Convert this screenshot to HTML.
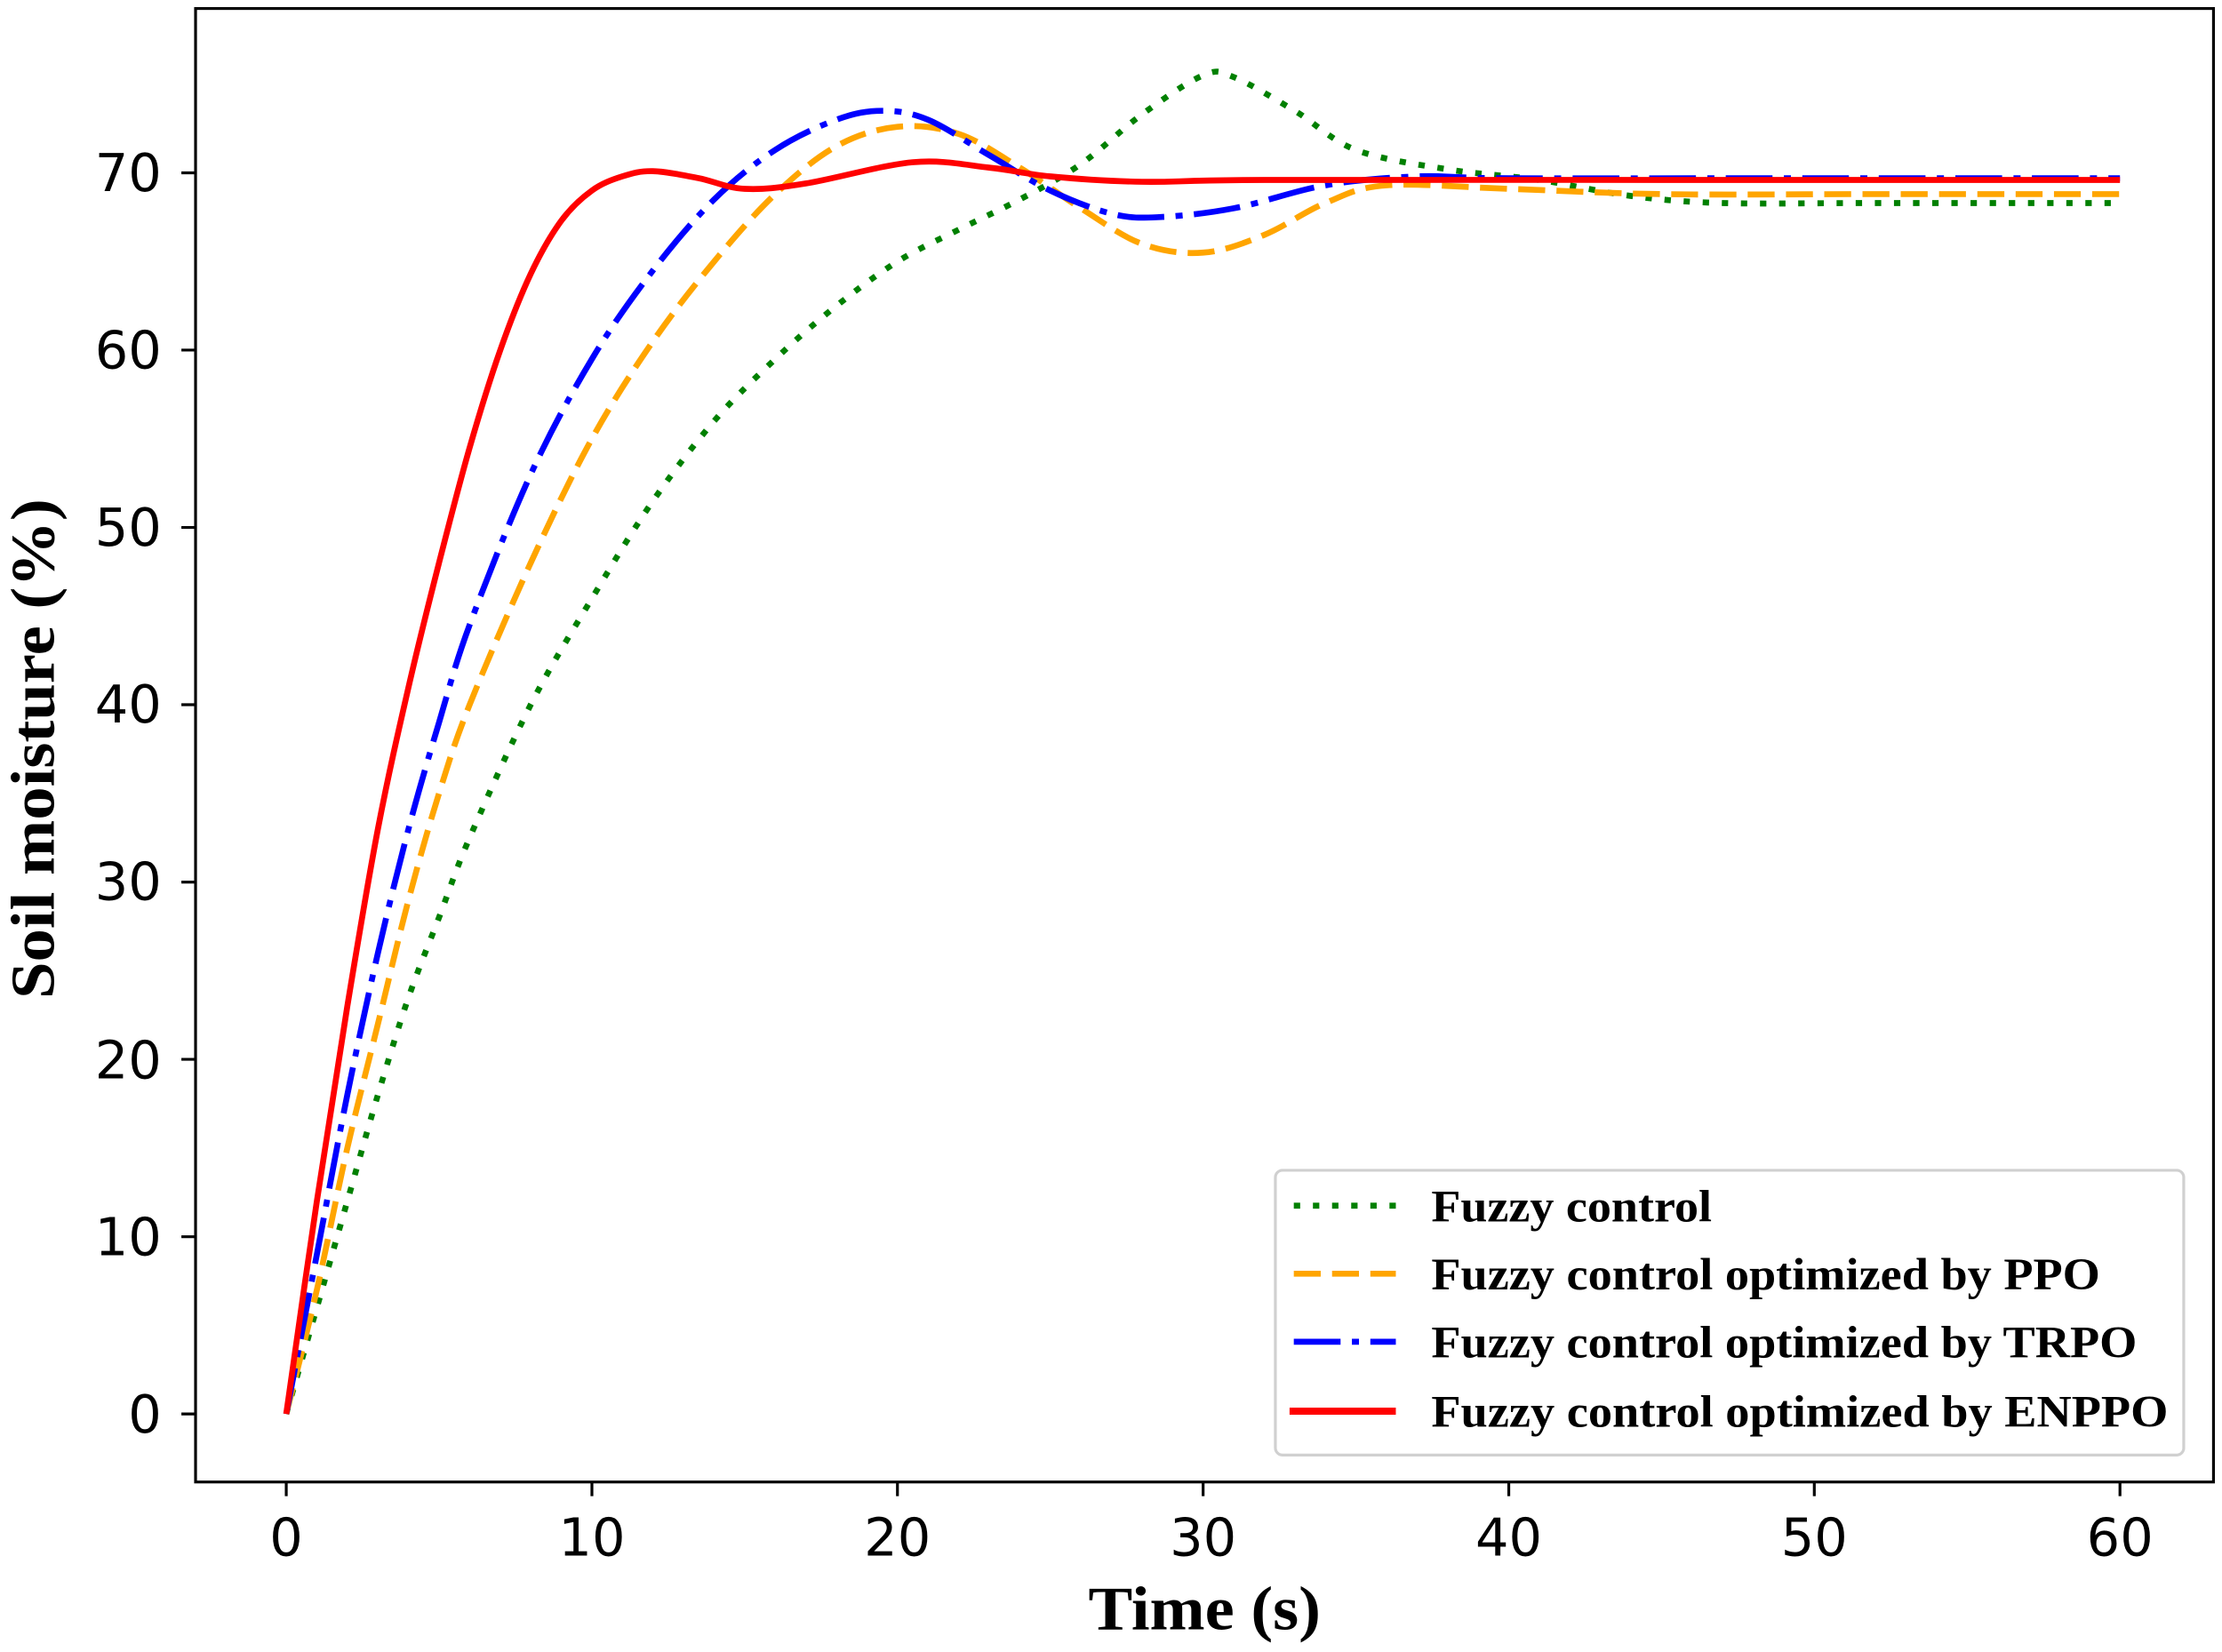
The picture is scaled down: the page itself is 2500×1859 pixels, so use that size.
<!DOCTYPE html>
<html><head><meta charset="utf-8">
<style>html,body{margin:0;padding:0;background:#fff;}svg{display:block;}</style>
</head><body>
<svg id="s" width="2500" height="1859" viewBox="0 0 1568 1166" preserveAspectRatio="none" xmlns="http://www.w3.org/2000/svg">
<rect x="0" y="0" width="1568" height="1166" fill="#fff"/>
<g id="curves" fill="none" stroke-width="4.2"></g>
<rect x="138" y="6" width="1424" height="1040" fill="none" stroke="#000" stroke-width="2"/>
<g stroke="#000" stroke-width="2">
<line x1="202" y1="1046" x2="202" y2="1056"/><line x1="417.7" y1="1046" x2="417.7" y2="1056"/><line x1="633.3" y1="1046" x2="633.3" y2="1056"/><line x1="849" y1="1046" x2="849" y2="1056"/><line x1="1064.7" y1="1046" x2="1064.7" y2="1056"/><line x1="1280.3" y1="1046" x2="1280.3" y2="1056"/><line x1="1496" y1="1046" x2="1496" y2="1056"/>
<line x1="128" y1="998" x2="138" y2="998"/><line x1="128" y1="872.9" x2="138" y2="872.9"/><line x1="128" y1="747.7" x2="138" y2="747.7"/><line x1="128" y1="622.6" x2="138" y2="622.6"/><line x1="128" y1="497.4" x2="138" y2="497.4"/><line x1="128" y1="372.3" x2="138" y2="372.3"/><line x1="128" y1="247.1" x2="138" y2="247.1"/><line x1="128" y1="122" x2="138" y2="122"/>
</g>
<g font-family="'DejaVu Sans','Liberation Sans',sans-serif" font-size="37" fill="#000" text-anchor="middle">
<text x="202" y="1098">0</text><text x="417.7" y="1098">10</text><text x="633.3" y="1098">20</text><text x="849" y="1098">30</text><text x="1064.7" y="1098">40</text><text x="1280.3" y="1098">50</text><text x="1496" y="1098">60</text>
</g>
<g font-family="'DejaVu Sans','Liberation Sans',sans-serif" font-size="37" fill="#000" text-anchor="end">
<text x="114" y="1011">0</text><text x="114" y="886">10</text><text x="114" y="761">20</text><text x="114" y="635">30</text><text x="114" y="510">40</text><text x="114" y="385">50</text><text x="114" y="260">60</text><text x="114" y="135">70</text>
</g>
<text x="768" y="1150" textLength="164" lengthAdjust="spacingAndGlyphs" font-family="'Liberation Serif',serif" font-weight="bold" font-size="44">Time (s)</text>
<text transform="translate(38,705) rotate(-90)" textLength="353" lengthAdjust="spacingAndGlyphs" font-family="'Liberation Serif',serif" font-weight="bold" font-size="44">Soil moisture (%)</text>
<rect x="900" y="826" width="641" height="201" rx="5" fill="#fff" fill-opacity="0.9" stroke="#d0d0d0" stroke-width="2"/>
<g stroke-width="4.2">
<line x1="913" y1="851" x2="985" y2="851" stroke="#008000" stroke-dasharray="4.5,9"/>
<line x1="913" y1="899" x2="985" y2="899" stroke="#ffa500" stroke-dasharray="19,8"/>
<line x1="913" y1="947" x2="985" y2="947" stroke="#0000ff" stroke-dasharray="33,8,5,8"/>
<line x1="910" y1="996" x2="985" y2="996" stroke="#ff0000" stroke-width="5"/>
</g>
<g font-family="'Liberation Serif',serif" font-weight="bold" font-size="32" fill="#000" lengthAdjust="spacingAndGlyphs">
<text x="1010" y="862" textLength="198" lengthAdjust="spacingAndGlyphs">Fuzzy control</text>
<text x="1010" y="910" textLength="472" lengthAdjust="spacingAndGlyphs">Fuzzy control optimized by PPO</text>
<text x="1010" y="958" textLength="498" lengthAdjust="spacingAndGlyphs">Fuzzy control optimized by TRPO</text>
<text x="1010" y="1007" textLength="520" lengthAdjust="spacingAndGlyphs">Fuzzy control optimized by ENPPO</text>
</g>
</svg>
<script>
(function(){
var X=function(t){return 202+t*21.5667;},Y=function(v){return 998-v*12.514;};
var series=[
{c:"#008000",d:"4.5,9",p:[[0,0],[1,6],[2,12],[3,18],[4,23.5],[5,28],[6,32.5],[8,40],[10,46],[12,51.5],[14,56],[16,59.5],[18,62.5],[20,65],[22,66.8],[24,68.5],[26,70.5],[28,73.3],[30,75.5],[31,75.4],[33,73.5],[35,71.3],[38,70.2],[41,69.6],[44,68.7],[47,68.3],[52,68.3],[60,68.3]]},
{c:"#ffa500",d:"19,8",p:[[0,0],[1,7],[2,15],[3,22],[4,29],[5,35],[6,40],[8,48],[10,55],[12,60.5],[14,65],[16,68.8],[18,71.5],[20,72.6],[22,72.2],[24,70.3],[26,68],[28,66],[30,65.5],[32,66.5],[34,68.3],[36,69.3],[40,69.1],[45,68.8],[52,68.8],[60,68.8]]},
{c:"#0000ff",d:"33,8,5,8",p:[[0,0],[1,9],[2,18],[3,26],[4,33],[5,39],[6,44.5],[8,53],[10,59.5],[12,64.5],[14,68.5],[16,71.3],[18,73],[19.5,73.5],[21,73],[23,71],[25,69],[27,67.7],[28.5,67.5],[31,68],[34,69.3],[37,69.8],[40,69.7],[50,69.7],[60,69.7]]},
{c:"#ff0000",d:"",p:[[0,0],[1,12],[2,23],[3,33],[4,41],[5,48],[6,54.5],[7,60],[8,64.3],[9,67.3],[10,69],[11,69.8],[12,70.1],[13.5,69.7],[15,69.1],[17,69.4],[20.5,70.6],[23,70.3],[25,69.8],[28,69.5],[32,69.6],[45,69.6],[60,69.6]]}
];
var g=document.getElementById("curves"),ns="http://www.w3.org/2000/svg";
series.forEach(function(s){
 var P=s.p.map(function(q){return [X(q[0]),Y(q[1])];});
 var d="M"+P[0][0].toFixed(1)+","+P[0][1].toFixed(1);
 for(var i=0;i<P.length-1;i++){
  var p0=P[i-1]||P[i],p1=P[i],p2=P[i+1],p3=P[i+2]||P[i+1];
  var c1=[p1[0]+(p2[0]-p0[0])/6,p1[1]+(p2[1]-p0[1])/6];
  var c2=[p2[0]-(p3[0]-p1[0])/6,p2[1]-(p3[1]-p1[1])/6];
  d+="C"+c1[0].toFixed(1)+","+c1[1].toFixed(1)+" "+c2[0].toFixed(1)+","+c2[1].toFixed(1)+" "+p2[0].toFixed(1)+","+p2[1].toFixed(1);
 }
 var e=document.createElementNS(ns,"path");
 e.setAttribute("d",d);e.setAttribute("stroke",s.c);
 if(s.d)e.setAttribute("stroke-dasharray",s.d);
 g.appendChild(e);
});
})();
</script>
</body></html>
